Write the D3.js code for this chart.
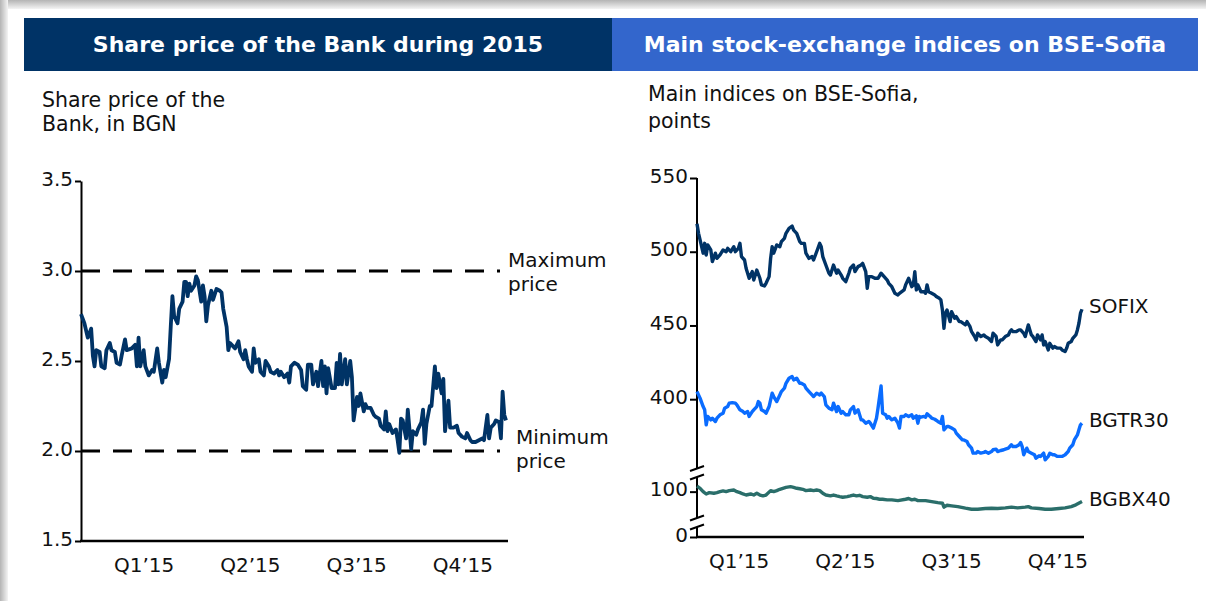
<!DOCTYPE html>
<html>
<head>
<meta charset="utf-8">
<script src="https://cdn.jsdelivr.net/npm/d3@7"></script>
<style>
  body { margin: 0; background: #fff; }
  svg { display: block; font-family: "DejaVu Sans", Verdana, sans-serif; }
</style>
</head>
<body>
<div id="chart"></div>
<script>
// ---- data ----
const quarters = ['Q1’15', 'Q2’15', 'Q3’15', 'Q4’15'];
const bankTicks = [1.5, 2.0, 2.5, 3.0, 3.5];
const indexTicks = [0, 100, 400, 450, 500, 550];
const priceLimits = [
  { value: 3.0, lines: ['Maximum', 'price'] },
  { value: 2.0, lines: ['Minimum', 'price'] }
];

// [trading day, BGN]
const bankPrice = [[0,2.76],[2,2.71],[4,2.63],[6,2.68],[7,2.53],[8,2.47],[9,2.56],[11,2.55],[12,2.47],[14,2.46],[15,2.56],[17,2.60],[18,2.56],[20,2.55],[21,2.49],[23,2.48],[24,2.53],[26,2.62],[27,2.56],[30,2.57],[32,2.59],[33,2.47],[34,2.63],[35,2.47],[37,2.56],[38,2.47],[40,2.42],[42,2.45],[43,2.44],[45,2.57],[46,2.49],[48,2.38],[49,2.45],[50,2.41],[52,2.51],[53,2.69],[54,2.86],[55,2.75],[57,2.71],[58,2.79],[60,2.83],[61,2.94],[62,2.94],[63,2.86],[64,2.93],[65,2.89],[67,2.92],[68,2.97],[69,2.95],[71,2.83],[72,2.92],[73,2.86],[74,2.72],[75,2.81],[77,2.89],[78,2.84],[80,2.90],[82,2.89],[83,2.88],[84,2.79],[86,2.69],[87,2.56],[88,2.60],[90,2.58],[91,2.57],[93,2.61],[94,2.55],[96,2.51],[97,2.56],[98,2.51],[99,2.47],[101,2.44],[102,2.57],[103,2.49],[105,2.51],[106,2.44],[108,2.42],[109,2.50],[111,2.47],[112,2.44],[114,2.43],[116,2.45],[117,2.42],[118,2.44],[120,2.41],[122,2.43],[123,2.38],[124,2.47],[126,2.49],[128,2.48],[130,2.45],[131,2.36],[133,2.34],[134,2.48],[136,2.48],[137,2.37],[139,2.44],[140,2.36],[142,2.50],[143,2.36],[144,2.47],[145,2.32],[146,2.46],[148,2.35],[150,2.35],[151,2.49],[152,2.37],[153,2.54],[154,2.37],[156,2.51],[157,2.37],[159,2.50],[160,2.41],[161,2.17],[163,2.30],[164,2.25],[165,2.32],[167,2.22],[168,2.26],[169,2.24],[171,2.24],[173,2.20],[174,2.19],[176,2.18],[177,2.14],[179,2.12],[180,2.22],[181,2.11],[182,2.15],[184,2.10],[186,2.12],[187,2.06],[188,1.99],[189,2.18],[190,2.17],[192,2.07],[193,2.23],[195,2.01],[196,2.11],[198,2.09],[199,2.12],[201,2.16],[202,2.23],[203,2.04],[204,2.15],[206,2.25],[207,2.25],[209,2.47],[210,2.35],[211,2.43],[213,2.32],[214,2.40],[215,2.11],[217,2.28],[218,2.13],[220,2.13],[222,2.14],[223,2.10],[225,2.08],[227,2.07],[228,2.10],[230,2.06],[231,2.05],[233,2.05],[235,2.06],[237,2.07],[238,2.06],[240,2.20],[241,2.07],[242,2.13],[244,2.15],[245,2.17],[247,2.16],[248,2.07],[249,2.33],[250,2.20],[251,2.17]];

// [trading day, points]
const sofix = [[0,519],[1,512.5],[2,508],[4,499],[5,505.7],[6,497.8],[7,504.6],[9,501.2],[10,493.3],[12,499],[13,495.5],[15,497.8],[17,501.2],[19,500],[20,502.3],[22,500],[24,503.4],[25,500],[27,502.3],[28,505.7],[29,496.7],[31,494.4],[32,488.8],[34,482],[36,486.5],[37,480.8],[39,487.6],[41,482],[42,477.5],[44,476.8],[45,478.6],[47,483.1],[48,495.5],[49,503.4],[50,499],[52,504.6],[54,503.4],[55,506.8],[57,509.1],[58,512.5],[60,515.9],[62,517.4],[63,514.7],[65,512.5],[67,506.8],[68,505.7],[70,505.7],[71,499],[73,495.5],[75,496.7],[76,494.4],[78,500],[80,505.7],[81,503.4],[82,496.7],[84,491],[86,485.4],[87,484.2],[89,491],[91,485.4],[92,487.6],[94,484.2],[95,482],[97,479.7],[99,485.4],[100,488.8],[102,491],[103,486.5],[105,489.9],[107,491],[108,492.1],[110,486.5],[111,475.2],[112,483.1],[114,483.1],[116,482],[118,482],[120,485.4],[122,483.1],[124,480.8],[125,478.6],[127,476.3],[129,471.8],[131,470.7],[132,471.8],[135,474.1],[136,477.5],[138,482],[140,476.3],[141,477.5],[142,486.5],[143,474.1],[144,477.5],[146,472.9],[148,472.9],[149,471.8],[150,477.5],[151,472.9],[153,471.8],[155,470.7],[156,469.6],[158,468.4],[159,467.3],[160,460.5],[161,448.1],[162,458.3],[163,460.5],[165,452.6],[166,459.4],[168,454.9],[169,456],[171,452.6],[172,452.6],[175,450.4],[176,452.6],[178,449.2],[179,445.8],[181,442.5],[182,440.2],[183,444.7],[185,442.5],[187,443.6],[188,442.5],[190,441.3],[192,439.1],[193,444.7],[195,442.5],[196,436.8],[198,440.2],[199,440.2],[201,442.5],[203,443.6],[204,445.8],[205,447],[206,445.8],[208,445.8],[210,447],[211,447],[213,444.7],[214,442.5],[216,450.4],[217,447],[218,443.6],[219,442.5],[221,439.1],[222,443.6],[224,440.2],[225,443.6],[226,436.8],[227,439.1],[229,433.4],[230,437.9],[232,434.6],[233,435.7],[235,434.6],[237,434.6],[238,433.4],[240,432.3],[241,434.6],[242,437.9],[244,439.1],[245,441.3],[247,443.6],[248,447],[249,451.5],[250,458.3],[251,461]];

const bgtr30 = [[0,405.2],[1,402.9],[2,400.7],[4,395],[5,392.8],[6,382.6],[7,388.3],[9,386],[10,387.1],[12,384.9],[13,387.1],[15,389.4],[17,390.5],[18,393.9],[20,395],[21,397.3],[23,397.7],[25,397.3],[26,396.2],[28,392.8],[30,391.6],[31,390.5],[33,391.6],[34,388.3],[36,391.6],[37,392.8],[39,395],[40,398.4],[41,397.3],[42,392.8],[44,391.6],[45,390.5],[47,395],[49,404.1],[50,401.8],[52,398.4],[54,402.9],[55,405.2],[57,407.5],[58,410.8],[60,414.2],[62,415.4],[63,413.1],[65,414.2],[67,410.8],[68,410.8],[70,409.7],[71,407.5],[73,405.2],[75,402.9],[76,401.8],[78,404.1],[80,402.9],[81,404.1],[83,401.8],[84,396.2],[86,393.9],[88,392.8],[89,397.3],[91,391.6],[92,395],[94,390.5],[95,391.6],[97,389.4],[99,389.4],[100,392.8],[102,395],[103,390.5],[105,392.8],[107,386],[108,386],[110,383.7],[112,384.9],[113,383.7],[115,380.4],[117,387.1],[118,393.9],[120,409],[121,390.5],[123,389.4],[124,387.1],[125,388.3],[126,387.1],[127,386],[129,387.1],[131,383.7],[132,380.4],[133,388.3],[135,388.3],[136,389.4],[138,388.3],[140,389.4],[141,387.1],[143,388.7],[144,383.7],[145,388.3],[146,387.8],[148,388.3],[149,387.8],[150,390.1],[152,388.3],[153,387.1],[155,386.4],[157,384.9],[159,383.7],[160,388.3],[161,379.2],[163,381.5],[164,381.5],[166,380.4],[168,379.2],[169,377],[171,374.7],[173,372.4],[174,372.4],[176,371.3],[177,369.1],[179,366.8],[180,363.4],[182,363.4],[183,364.5],[185,363.4],[187,363.9],[188,364.5],[190,363.4],[192,364.5],[193,365.7],[195,366.1],[196,364.5],[198,365.2],[200,365.7],[201,366.1],[203,366.8],[205,369.1],[206,367.9],[208,367.9],[210,369.1],[211,370.6],[212,367.9],[213,362.3],[215,366.8],[216,364.5],[218,363.4],[220,362.3],[221,360],[223,361.6],[224,361.2],[226,363.4],[227,358.9],[229,361.2],[230,363.4],[232,362.3],[233,362.3],[235,361.2],[237,361.2],[238,361.2],[240,362.3],[242,364.5],[243,366.8],[245,369.1],[246,372.4],[248,375.8],[249,379.2],[250,382.6],[251,383.7]];

const bgbx40 = [[0,103.8],[2,102.3],[4,100],[6,98.4],[8,99.3],[11,98.9],[13,99.3],[15,100],[17,100.5],[19,100],[21,100.7],[24,101.1],[26,100],[28,99.3],[30,98.4],[32,97.7],[35,98.4],[37,97.7],[39,98.9],[41,97.7],[43,97.1],[45,97.7],[48,100.7],[50,100],[52,100.7],[54,101.6],[56,102.3],[58,102.9],[61,103.4],[63,102.9],[65,102.3],[67,102],[69,101.6],[71,100.7],[74,101.1],[76,100.7],[78,101.1],[80,100.7],[82,98.9],[84,97.7],[87,97.1],[89,97.7],[91,97.1],[93,96.6],[95,96.2],[98,96.6],[100,97.1],[102,97.7],[104,97.1],[106,97.5],[108,96.6],[111,96.2],[113,96.6],[115,95.5],[117,95.3],[119,94.8],[121,94.8],[124,94.4],[127,94.4],[131,93.9],[136,94.8],[138,95.3],[140,94.4],[142,94.8],[144,93.9],[149,93.9],[153,93.2],[157,92.5],[160,92.1],[161,89.4],[163,90.7],[166,90.3],[170,89.8],[175,88.7],[179,88],[183,88],[188,88.5],[192,88.7],[196,88.5],[201,88.9],[205,89.4],[209,88.9],[214,89.4],[216,89.8],[218,88.9],[223,88.5],[227,88],[231,88],[236,88.5],[240,88.9],[244,89.8],[247,91],[251,93.2]];

const indexSeries = [
  { name: 'SOFIX', values: sofix, color: '#003366' },
  { name: 'BGTR30', values: bgtr30, color: '#0a6cff' },
  { name: 'BGBX40', values: bgbx40, color: '#2a6e6a' }
];
// value ranges that are cut out of the right-hand axis
const axisBreaks = [[47, 82], [110, 353]];

// ---- page frame ----
const width = 1206, height = 601;
const svg = d3.select('#chart').append('svg')
  .attr('width', width)
  .attr('height', height);

const defs = svg.append('defs');
const topShade = defs.append('linearGradient').attr('id', 'topShade')
  .attr('x1', 0).attr('y1', 0).attr('x2', 0).attr('y2', 1);
topShade.append('stop').attr('offset', 0).attr('stop-color', '#b4b4b4');
topShade.append('stop').attr('offset', 1).attr('stop-color', '#f4f4f4');
const leftShade = defs.append('linearGradient').attr('id', 'leftShade')
  .attr('x1', 0).attr('y1', 0).attr('x2', 1).attr('y2', 0);
leftShade.append('stop').attr('offset', 0).attr('stop-color', '#b4b4b4');
leftShade.append('stop').attr('offset', 1).attr('stop-color', '#f4f4f4');

svg.append('rect').attr('width', width).attr('height', 9).attr('fill', 'url(#topShade)');
svg.append('rect').attr('width', 8).attr('height', height).attr('fill', 'url(#leftShade)');

// header bars
const headers = [
  { text: 'Share price of the Bank during 2015', x0: 24, x1: 612, fill: '#003366' },
  { text: 'Main stock-exchange indices on BSE-Sofia', x0: 612, x1: 1198, fill: '#3366cc' }
];
const headG = svg.selectAll('g.head').data(headers).enter().append('g').attr('class', 'head');
headG.append('rect')
  .attr('x', d => d.x0).attr('y', 18)
  .attr('width', d => d.x1 - d.x0).attr('height', 53)
  .attr('fill', d => d.fill);
headG.append('text')
  .attr('x', d => (d.x0 + d.x1) / 2).attr('y', 52)
  .attr('text-anchor', 'middle')
  .attr('fill', '#fff')
  .style('font-size', '22px')
  .style('font-weight', 'bold')
  .text(d => d.text);

function caption(x, ys, lines){
  svg.append('text')
    .attr('x', x)
    .style('font-size', '20.5px')
    .attr('fill', '#111')
    .selectAll('tspan').data(lines).enter().append('tspan')
    .attr('x', x).attr('y', (d, i) => ys[i])
    .text(d => d);
}
caption(42, [107, 131], ['Share price of the', 'Bank, in BGN']);
caption(648, [101, 128], ['Main indices on BSE-Sofia,', 'points']);

function styleAxis(g){
  g.attr('font-family', null).attr('font-size', null);
  g.selectAll('text').style('font-size', '20px').attr('fill', '#111');
  g.selectAll('line, path').attr('stroke', '#000').attr('stroke-width', 2);
}

// ---- left: share price of the Bank ----
const xBank = d3.scaleLinear().domain([0, 251]).range([81, 506]);
const yBank = d3.scaleLinear().domain([1.5, 3.5]).range([541, 181]);
const qBank = d3.scaleBand().domain(quarters).range([91, 516]);

const left = svg.append('g');

left.append('g')
  .attr('transform', 'translate(81,0)')
  .call(d3.axisLeft(yBank).tickValues(bankTicks).tickFormat(d3.format('.1f'))
    .tickSize(6).tickSizeOuter(0).tickPadding(2))
  .call(styleAxis)
  .call(g => g.selectAll('text').attr('dy', '0.2em'));

left.append('line')
  .attr('x1', 80).attr('x2', 508)
  .attr('y1', yBank(1.5)).attr('y2', yBank(1.5))
  .attr('stroke', '#000').attr('stroke-width', 2.5);

left.append('g')
  .attr('transform', `translate(0,${yBank(1.5)})`)
  .call(d3.axisBottom(qBank).tickSize(0).tickPadding(17))
  .call(styleAxis)
  .call(g => g.select('.domain').remove());

// max / min reference lines
const limitG = left.selectAll('g.limit').data(priceLimits).enter().append('g').attr('class', 'limit');
limitG.append('line')
  .attr('x1', 81).attr('x2', 500)
  .attr('y1', d => yBank(d.value)).attr('y2', d => yBank(d.value))
  .attr('stroke', '#000').attr('stroke-width', 3)
  .attr('stroke-dasharray', '19,13');
limitG.append('text')
  .style('font-size', '20px')
  .attr('fill', '#111')
  .selectAll('tspan').data((d, i) => d.lines.map((t, j) => ({ t, y: yBank(d.value) + (i === 0 ? -4 : -7) + j * 24, x: i === 0 ? 508 : 516 })))
  .enter().append('tspan')
  .attr('x', d => d.x).attr('y', d => d.y)
  .text(d => d.t);

const bankLine = d3.line()
  .x(d => xBank(d[0]))
  .y(d => yBank(d[1]));

left.append('path')
  .datum(bankPrice)
  .attr('fill', 'none')
  .attr('stroke', '#003366')
  .attr('stroke-width', 3.8)
  .attr('stroke-linejoin', 'round')
  .attr('d', bankLine);

// ---- right: BSE-Sofia indices (broken axis) ----
const xIdx = d3.scaleLinear().domain([0, 251]).range([697, 1082]);
const yIdx = d3.scaleLinear()
  .domain([0, 47, 82, 110, 353, 550])
  .range([537, 527, 518, 477, 468.5, 178]);
const qIdx = d3.scaleBand().domain(quarters).range([686, 1111]);

const right = svg.append('g');

right.append('g')
  .attr('transform', 'translate(697,0)')
  .call(d3.axisLeft(yIdx).tickValues(indexTicks).tickFormat(d3.format('d'))
    .tickSize(7).tickSizeOuter(0).tickPadding(2))
  .call(styleAxis)
  .call(g => g.select('.domain').remove())
  .call(g => g.selectAll('text').attr('dy', '0.2em'));

// axis segments between the breaks
const segments = [[0, 47], [82, 110], [353, 550]];
right.selectAll('line.seg').data(segments).enter().append('line')
  .attr('class', 'seg')
  .attr('x1', 697).attr('x2', 697)
  .attr('y1', d => yIdx(d[0])).attr('y2', d => yIdx(d[1]))
  .attr('stroke', '#000').attr('stroke-width', 2);

right.selectAll('line.brk').data(axisBreaks.flat()).enter().append('line')
  .attr('class', 'brk')
  .attr('x1', 690).attr('x2', 704)
  .attr('y1', d => yIdx(d) + 2.5).attr('y2', d => yIdx(d) - 2.5)
  .attr('stroke', '#000').attr('stroke-width', 2);

right.append('line')
  .attr('x1', 696).attr('x2', 1084)
  .attr('y1', yIdx(0)).attr('y2', yIdx(0))
  .attr('stroke', '#000').attr('stroke-width', 2.5);

right.append('g')
  .attr('transform', `translate(0,${yIdx(0)})`)
  .call(d3.axisBottom(qIdx).tickSize(0).tickPadding(17))
  .call(styleAxis)
  .call(g => g.select('.domain').remove());

const idxLine = d3.line()
  .x(d => xIdx(d[0]))
  .y(d => yIdx(d[1]));

const seriesG = right.selectAll('g.series').data(indexSeries).enter().append('g').attr('class', 'series');
seriesG.append('path')
  .attr('fill', 'none')
  .attr('stroke', d => d.color)
  .attr('stroke-width', 3.4)
  .attr('stroke-linejoin', 'round')
  .attr('d', d => idxLine(d.values));

// series name next to the last point
seriesG.append('text')
  .attr('x', d => xIdx(d.values[d.values.length - 1][0]) + 7)
  .attr('y', d => yIdx(d.values[d.values.length - 1][1]))
  .attr('dy', '0.2em')
  .style('font-size', '20px')
  .attr('fill', '#111')
  .text(d => d.name);
</script>
</body>
</html>
